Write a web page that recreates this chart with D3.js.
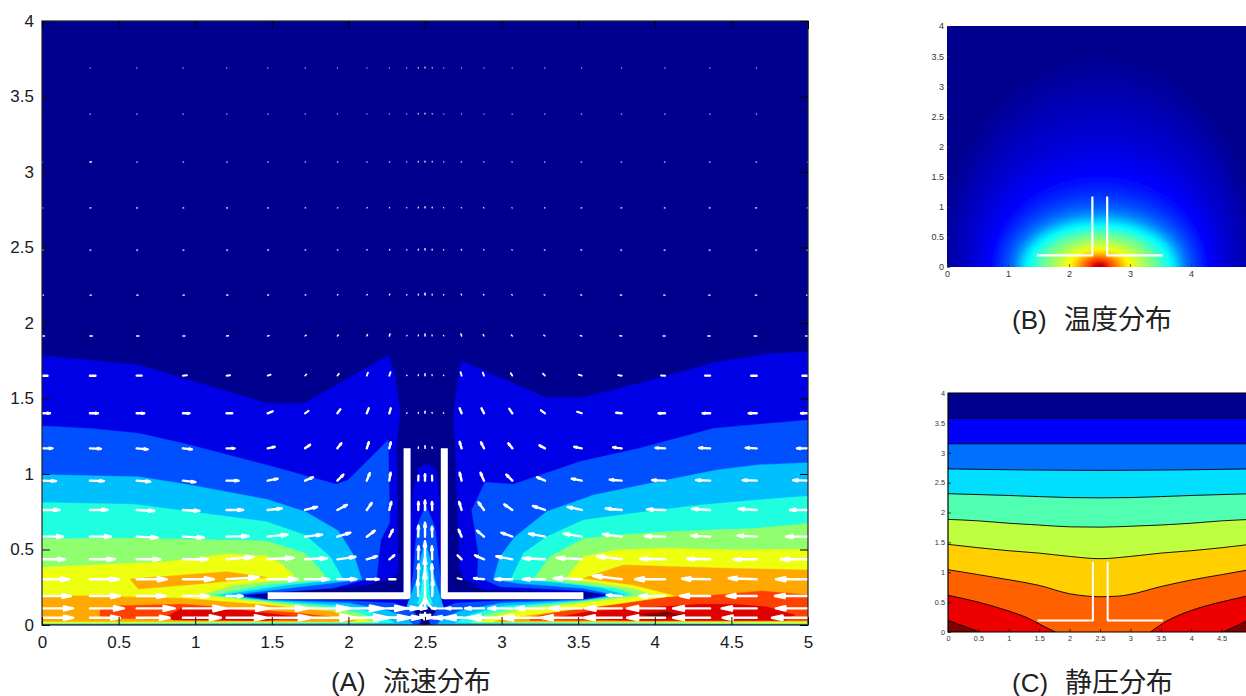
<!DOCTYPE html>
<html>
<head>
<meta charset="utf-8">
<script src="https://cdnjs.cloudflare.com/ajax/libs/d3/7.8.5/d3.min.js"></script>
<style>
  html, body { margin: 0; padding: 0; background: #fff; overflow: hidden; }
  text { font-family: "Liberation Sans", Arial, sans-serif; }
</style>
</head>
<body>
<div id="chart"></div>
<script>
// Constants
var width = 1246;
var height = 696;

// Shared geometry of the heated plate and duct, in metres
var wallLeft = [[1.473, 0.193], [2.383, 0.193], [2.383, 1.17]];
var wallRight = [[3.534, 0.193], [2.626, 0.193], [2.626, 1.17]];

// (A) flow speed band colours, low to high
var flowColors = ["#00008f", "#0000e6", "#0050ff", "#00bfff", "#1fffdf", "#8fff70", "#efff10", "#ffa800", "#ff4000", "#df0000", "#800000"];

// (A) band outlines, left side
var flowL1 = [[0,1.784],[.629,1.722],[.922,1.634],[1.467,1.468],[1.71,1.468],[2.26,1.784],[2.304,1.667],[2.337,1.402],[2.315,1.181],[2.326,.342],[2.27,.309],[2.12,.265],[1.9,.243],[1.6,.225],[1.33,.197],[1.467,.17],[2,.165],[2.36,.165],[2.5,0],[0,0]];
var flowL2 = [[0,1.318],[.313,1.302],[.629,1.27],[.922,1.203],[1.467,1.06],[1.922,.932],[1.998,.96],[2.26,1.225],[2.27,.68],[2.21,.56],[2.185,.32],[1.9,.245],[1.28,.197],[1.47,.168],[2,.16],[2.3,.145],[2.42,.1],[2.47,.03],[2.48,0],[0,0]];
var flowL3 = [[0,.996],[.629,.981],[.922,.936],[1.467,.832],[1.717,.751],[1.934,.625],[2.04,.453],[2.087,.302],[1.7,.255],[1.22,.197],[1.47,.165],[2,.145],[2.25,.1],[2.38,.05],[2.42,.005],[0,.005]];
var flowL4 = [[0,.812],[.6,.8],[1.467,.684],[1.717,.596],[1.88,.453],[1.966,.302],[1.6,.265],[1.15,.197],[1.47,.16],[2,.125],[2.2,.07],[2.3,.015],[0,.008]];
var flowL5 = [[0,.572],[.61,.575],[1.467,.557],[1.717,.475],[1.79,.397],[1.865,.302],[1.45,.265],[1.1,.197],[1.47,.155],[1.9,.115],[2.1,.07],[2.2,.015],[0,.01]];
var flowL6 = [[0,.382],[.81,.419],[1.205,.47],[1.467,.457],[1.564,.404],[1.66,.309],[1.25,.265],[1.03,.197],[1.47,.147],[1.8,.11],[2,.07],[2.15,.02],[0,.014]];
var flowL7 = [[0,.188],[.27,.194],[.92,.177],[1.47,.132],[1.9,.09],[2.05,.03],[2,.022],[0,.024]];
var flowL7b = [[.574,.305],[1.205,.353],[1.467,.316],[1.075,.276],[.629,.238]];
var flowL8 = [[.379,.099],[.509,.128],[.92,.137],[1.467,.095],[1.684,.077],[1.88,.055],[1.684,.029],[.379,.044]];
var flowL9 = [[.814,.055],[.92,.115],[1.25,.104],[1.66,.055],[1.467,.029],[.857,.033]];

// (A) band outlines, right side
var flowR1 = [[5,1.81],[4.73,1.795],[4.393,1.74],[4.067,1.645],[3.544,1.508],[3.283,1.508],[2.74,1.75],[2.717,1.645],[2.685,1.38],[2.696,1.181],[2.728,.364],[2.75,.309],[2.88,.236],[3.2,.227],[3.533,.22],[3.675,.199],[3.53,.17],[3,.165],[2.64,.165],[2.5,0],[5,0]];
var flowR2 = [[5,1.358],[4.382,1.302],[3.9,1.17],[3.512,1.082],[3.077,.932],[2.892,.945],[2.805,.762],[2.848,.475],[2.842,.32],[2.99,.254],[3.533,.227],[3.72,.197],[3.53,.168],[3,.16],[2.7,.145],[2.58,.1],[2.53,.03],[2.52,0],[5,0]];
var flowR3 = [[5,1.075],[4.665,1.06],[4.405,1.026],[3.969,.938],[3.6,.861],[3.295,.751],[3.088,.585],[2.99,.453],[2.946,.302],[3.1,.276],[3.533,.243],[3.75,.199],[3.53,.165],[3,.145],[2.75,.1],[2.62,.05],[2.58,.005],[5,.005]];
var flowR4 = [[5,.854],[4.665,.828],[4.295,.795],[3.86,.74],[3.533,.695],[3.295,.585],[3.142,.475],[3.06,.302],[3.316,.287],[3.643,.249],[3.816,.199],[3.53,.16],[3,.125],[2.8,.07],[2.7,.015],[5,.008]];
var flowR5 = [[5,.673],[4.665,.64],[4.078,.618],[3.751,.596],[3.533,.57],[3.316,.453],[3.207,.302],[3.381,.287],[3.751,.243],[3.87,.199],[3.53,.155],[3.1,.115],[2.9,.07],[2.8,.015],[5,.01]];
var flowR6 = [[5,.501],[4.513,.497],[4.078,.508],[3.751,.497],[3.533,.453],[3.414,.302],[3.577,.287],[3.86,.243],[3.99,.199],[3.53,.147],[3.2,.11],[3,.07],[2.85,.02],[5,.014]];
var flowR7 = [[5,.364],[4.513,.375],[3.795,.397],[3.533,.309],[3.86,.265],[4.143,.192],[3.64,.121],[3.29,.077],[3.05,.044],[2.95,.022],[5,.024]];
var flowR8 = [[5,.199],[4.7,.225],[4.405,.199],[4.078,.183],[3.73,.132],[3.381,.088],[3.185,.051],[3.185,.03],[5,.03]];
var flowR9 = [[4.513,.137],[4.295,.137],[4.035,.121],[3.56,.088],[3.34,.044],[3.86,.029],[4.84,.029],[4.915,.066],[4.73,.121]];
var flowR10 = [[3.904,.073],[4.078,.088],[4.186,.064],[4.012,.051]];

// (A) band outlines inside the duct
var flowC1 = [[2.35,.16],[2.39,.563],[2.424,.894],[2.457,1.038],[2.511,1.07],[2.565,1.038],[2.587,.894],[2.62,.563],[2.65,.16]];
var flowC2 = [[2.39,.13],[2.424,.344],[2.446,.651],[2.505,.795],[2.565,.651],[2.598,.344],[2.61,.13]];
var flowC3 = [[2.38,.12],[2.446,.3],[2.463,.41],[2.5,.552],[2.544,.41],[2.565,.3],[2.62,.12]];
var flowC4 = [[2.45,.14],[2.47,.2],[2.485,.342],[2.505,.43],[2.52,.342],[2.53,.2],[2.55,.14]];
var flowHole = [[2.46,0],[2.5,.06],[2.54,0]];

// Band index and outlines in drawing order
var flowBandIndex = [1, 1, 1, 2, 2, 2, 3, 3, 3, 4, 4, 4, 5, 5, 6, 6, 7, 7, 7, 8, 8, 9, 9, 10, 0];
var flowBandShapes = [flowL1, flowR1, flowC1, flowL2, flowR2, flowC2, flowL3, flowR3, flowC3, flowL4, flowR4, flowC4, flowL5, flowR5, flowL6, flowR6, flowL7, flowL7b, flowR7, flowL8, flowR8, flowL9, flowR9, flowR10, flowHole];

// (A) quiver grid
var quiverX = [0,.313,.618,.92,1.205,1.473,1.717,1.928,2.12,2.267,2.38,2.456,2.5,2.547,2.623,2.739,2.885,3.07,3.283,3.523,3.784,4.067,4.361,4.665,5];
var quiverY = [3.689,3.384,3.066,2.762,2.483,2.185,1.914,1.651,1.402,1.17,.956,.762,.585,.435,.303,.192,.11,.048];

// (A) horizontal velocity, one row per quiverY
var quiverU = [
  [0,.03,.03,.03,.03,.03,.03,.02,.02,.02,.02,0,0,0,-.02,-.02,-.02,-.02,-.03,-.03,-.03,-.03,-.03,-.03,0],
  [0,.04,.04,.04,.04,.04,.03,.03,.02,.02,.02,0,0,0,-.02,-.02,-.02,-.03,-.03,-.04,-.04,-.04,-.04,-.04,0],
  [.06,.14,.07,.07,.07,.06,.05,.05,.04,.04,.03,0,0,0,-.03,-.04,-.04,-.05,-.05,-.06,-.07,-.07,-.07,-.07,-.06],
  [.08,.1,.08,.08,.08,.07,.06,.05,.05,.04,.03,0,0,0,-.03,-.04,-.05,-.05,-.06,-.07,-.08,-.08,-.08,-.1,-.08],
  [.1,.1,.1,.1,.1,.09,.07,.06,.05,.05,.04,.01,0,-.01,-.04,-.05,-.05,-.06,-.07,-.09,-.1,-.1,-.1,-.1,-.1],
  [.15,.15,.15,.14,.13,.11,.09,.07,.06,.05,.04,.01,0,-.01,-.04,-.05,-.06,-.07,-.09,-.11,-.13,-.14,-.15,-.15,-.15],
  [.24,.24,.22,.2,.18,.15,.12,.1,.08,.07,.05,.02,0,-.02,-.05,-.07,-.08,-.1,-.12,-.15,-.18,-.2,-.22,-.24,-.24],
  [.55,.55,.5,.4,.35,.3,.15,.15,.12,.12,.05,.02,0,-.02,-.05,-.1,-.12,-.15,-.2,-.3,-.35,-.4,-.5,-.55,-.55],
  [.8,.8,.75,.65,.55,.5,.35,.3,.2,.15,.05,.02,0,-.02,-.05,-.2,-.25,-.3,-.4,-.45,-.55,-.65,-.75,-.8,-.7],
  [1.05,1.1,1.1,.9,.8,.7,.5,.4,.2,.15,0,.02,0,-.02,0,-.2,-.3,-.4,-.55,-.75,-.85,-.95,-1.1,-1.1,-1.1],
  [1.4,1.4,1.35,1.25,1.2,1,.8,.6,.3,.13,0,.02,0,-.02,0,-.2,-.35,-.6,-.8,-1,-1.2,-1.3,-1.4,-1.4,-1.5],
  [1.75,1.75,1.75,1.65,1.65,1.4,1.2,.95,.5,.2,0,.02,0,-.02,0,-.25,-.55,-.8,-1.2,-1.4,-1.6,-1.8,-1.8,-1.8,-1.8],
  [2.1,2.1,2.1,2.1,2.2,2,1.7,1.3,.8,.35,0,.02,0,-.02,0,-.3,-.7,-1.1,-1.6,-1.8,-1.9,-2,-1.9,-1.9,-2.2],
  [2.3,2.5,2.4,2.5,2.7,2.6,2.2,1.8,1,.5,0,.03,0,-.03,0,-.4,-.9,-1.6,-2.2,-2.5,-2.5,-2.5,-2.3,-2.3,-2.7],
  [2.7,2.9,3,3.1,3.2,3,2.4,1.9,1.2,.6,0,.03,0,-.03,0,-.4,-1,-1.7,-2.2,-2.8,-2.9,-3,-2.8,-2.8,-3.2],
  [2.9,3,2.9,2.6,1.6,0,0,0,0,0,0,-.05,0,.05,0,0,0,0,0,0,-1.5,-2.6,-3,-3,-3.3],
  [3.1,3.4,3.8,4.3,4.2,4,4.5,4.6,4,3,2,.8,0,-.8,-1.2,-1.6,-1.9,-2.4,-3,-3.3,-3.7,-3.8,-3.7,-3.5,-3.2],
  [3.1,3,3.3,3.8,4,4.4,5,5.2,4.4,3.2,2.5,1.2,0,-1.2,-1.3,-2.8,-4,-4.5,-4.5,-4.1,-3.8,-3.8,-3.7,-3.4,-3.6]
];

// (A) vertical velocity, one row per quiverY
var quiverV = [
  [0,0,0,0,0,0,0,0,0,0,0,.05,.08,.05,0,0,0,0,0,0,0,0,0,0,0],
  [0,0,0,0,0,0,0,0,0,0,0,.05,.08,.05,0,0,0,0,0,0,0,0,0,0,0],
  [0,0,0,0,0,0,0,.01,.01,.01,.02,.06,.1,.06,.02,.01,.01,.01,0,0,0,0,0,0,0],
  [0,0,0,0,0,0,.01,.02,.03,.03,.03,.08,.12,.08,.03,.03,.03,.02,.01,0,0,0,0,0,0],
  [0,0,0,0,0,.01,.02,.03,.04,.06,.04,.1,.15,.1,.04,.06,.04,.03,.02,.01,0,0,0,0,0],
  [0,0,0,0,.01,.02,.03,.05,.07,.1,.05,.1,.18,.1,.05,.1,.07,.05,.03,.02,.01,0,0,0,0],
  [0,0,0,.01,.02,.04,.08,.1,.14,.2,.06,.1,.2,.1,.06,.2,.14,.1,.08,.04,.02,.01,0,0,0],
  [0,0,0,.05,.05,.1,.15,.2,.3,.35,.06,.1,.2,.1,.06,.35,.3,.25,.2,.1,.06,.03,0,0,0],
  [0,0,0,0,0,.2,.25,.4,.5,.5,.06,.1,.2,.1,.06,.5,.5,.45,.3,.15,.05,0,0,0,0],
  [0,-.05,-.1,-.1,0,.15,.35,.5,.6,.6,0,.15,.25,.15,0,.65,.6,.5,.3,.15,.1,.05,.05,.05,0],
  [-.05,-.05,-.1,-.15,0,.2,.35,.6,.75,.8,0,.5,.65,.5,0,.8,.8,.6,.35,.2,.1,.05,.05,.05,.05],
  [0,0,-.1,-.1,0,.15,.3,.5,.7,.8,0,.8,.95,.8,0,.8,.75,.55,.4,.3,.15,.05,.1,.1,0],
  [0,0,-.1,-.1,.05,.2,.2,.4,.6,.7,0,1.1,1.4,1,0,.7,.6,.4,.3,.3,.25,.05,.1,.1,0],
  [0,0,0,0,.25,.15,.1,.25,.3,.4,0,1.3,1.8,1.3,0,.4,.4,.3,.1,.15,.3,.05,.05,0,0],
  [0,0,0,0,.2,0,0,0,0,0,0,1.5,2.2,1.5,0,.1,.1,0,0,.1,.35,0,.05,.1,0],
  [0,0,0,0,0,0,0,0,0,0,0,1.6,2.5,1.6,0,0,0,0,0,0,.1,0,0,0,0],
  [0,0,0,0,0,0,0,0,0,0,0,.9,1.2,.9,0,0,0,0,0,0,0,0,0,0,0],
  [0,0,0,0,0,0,0,0,0,0,0,.3,.5,.3,0,0,0,0,0,0,0,0,0,0,0]
];

// (B) temperature contours: level on the jet scale and half widths around the source
var tempLevels = [.008,.015,.022,.03,.038,.045,.052,.06,.07,.08,.09,.1,.11,.12,.135,.15,.165,.18,.195,.21,.23,.25,.27,.29,.31,.33,.36,.4,.44,.48,.52,.56,.6,.64,.68,.72,.76,.8,.84,.88,.92,.96,1];
var tempRx = [2.62,2.55,2.48,2.42,2.36,2.3,2.24,2.18,2.1,2.03,1.95,1.88,1.82,1.76,1.71,1.66,1.61,1.56,1.51,1.47,1.42,1.38,1.34,1.31,1.28,1.25,1.2,1.12,1.03,.95,.85,.74,.64,.55,.46,.39,.33,.27,.21,.16,.12,.08,.04];
var tempRy = [3.45,3.3,3.15,3.0,2.85,2.7,2.55,2.4,2.22,2.05,1.9,1.75,1.62,1.5,1.38,1.28,1.2,1.13,1.06,1.0,.95,.9,.86,.82,.79,.76,.72,.66,.6,.55,.49,.43,.37,.31,.27,.23,.2,.17,.14,.11,.08,.05,.03];
var tempCenterX = 2.5;

// (C) pressure band colours, low to high
var pressColors = ["#000090", "#0000ff", "#0070ff", "#00dfff", "#50ffb0", "#bfff40", "#ffcf00", "#ff6000", "#ef0000", "#800000"];

// (C) pressure contour lines
var pressLine1 = [[0,3.58],[5,3.58]];
var pressLine2 = [[0,3.15],[5,3.15]];
var pressLine3 = [[0,2.73],[1.5,2.71],[2.5,2.705],[3.5,2.71],[5,2.73]];
var pressLine4 = [[0,2.315],[1,2.285],[2,2.25],[2.5,2.245],[3,2.25],[4,2.285],[5,2.315]];
var pressLine5 = [[0,1.885],[.5,1.86],[1,1.82],[1.5,1.79],[2,1.76],[2.5,1.755],[3,1.77],[3.5,1.79],[4,1.82],[4.5,1.86],[5,1.885]];
var pressLine6 = [[0,1.467],[.5,1.41],[1,1.36],[1.5,1.32],[2,1.265],[2.5,1.227],[3,1.265],[3.5,1.32],[4,1.36],[4.5,1.41],[5,1.47]];
var pressLine7 = [[0,1.043],[.5,.96],[1,.875],[1.5,.78],[2,.64],[2.3,.6],[2.5,.59],[2.8,.6],[3,.63],[3.5,.76],[4,.87],[4.5,.96],[5,1.05]];
var pressLine8a = [[0,.614],[.5,.5],[1,.35],[1.3,.24],[1.575,.095],[1.767,0]];
var pressLine8b = [[3.33,0],[3.6,.184],[4,.36],[4.48,.5],[4.91,.6],[5,.625]];
var pressLine9a = [[0,.195],[.25,.1],[.52,0]];
var pressLine9b = [[4.527,0],[4.91,.184],[5,.23]];
var pressBandIndex = [1, 2, 3, 4, 5, 6, 7, 8, 8, 9, 9];
var pressBandLines = [pressLine1, pressLine2, pressLine3, pressLine4, pressLine5, pressLine6, pressLine7, pressLine8a, pressLine8b, pressLine9a, pressLine9b];

// Tick values
var tickXA = [0, .5, 1, 1.5, 2, 2.5, 3, 3.5, 4, 4.5, 5];
var tickYA = [0, .5, 1, 1.5, 2, 2.5, 3, 3.5, 4];
var tickXB = [0, 1, 2, 3, 4];
var tickXC = [0, .5, 1, 1.5, 2, 2.5, 3, 3.5, 4, 4.5];

// Jet colour scheme for the temperature field
var jet = d3.scaleLinear()
  .domain([0, .11, .36, .64, .89, 1])
  .range(["#00008f", "#0000ff", "#00ffff", "#ffff00", "#ff0000", "#800000"]);

var svg = d3.select("#chart")
  .append("svg")
    .attr("width", width)
    .attr("height", height)
    .style("display", "block");

var defs = svg.append("defs");
defs.append("filter").attr("id", "soft")
  .attr("x", "-10%").attr("y", "-10%").attr("width", "120%").attr("height", "120%")
  .append("feGaussianBlur").attr("stdDeviation", 2);

// Make a plot group with scales, clip and drawing helpers
function makePlot(id, left, right, top, bottom) {
  var x = d3.scaleLinear().domain([0, 5]).range([left, right]);
  var y = d3.scaleLinear().domain([0, 4]).range([bottom, top]);
  defs.append("clipPath").attr("id", "clip-" + id)
    .append("rect")
      .attr("x", left).attr("y", top)
      .attr("width", right - left).attr("height", bottom - top);
  var g = svg.append("g").attr("id", id);
  var body = g.append("g").attr("clip-path", "url(#clip-" + id + ")");
  return {x: x, y: y, g: g, body: body, line: d3.line().x(function(d) { return x(d[0]); }).y(function(d) { return y(d[1]); })};
}

// Add the axes around a plot
function addAxes(p, opt) {
  var xAxis = d3.axisBottom(p.x).tickValues(opt.tickX).tickFormat(d3.format("~g"))
    .tickSizeInner(-opt.tick).tickSizeOuter(0).tickPadding(opt.padX);
  var yAxis = d3.axisLeft(p.y).tickValues(opt.tickY).tickFormat(d3.format("~g"))
    .tickSizeInner(-opt.tick).tickSizeOuter(0).tickPadding(opt.padY);
  var xg = p.g.append("g").attr("transform", "translate(0," + p.y(0) + ")").call(xAxis);
  var yg = p.g.append("g").attr("transform", "translate(" + p.x(0) + ",0)").call(yAxis);
  [xg, yg].forEach(function(a) {
    a.select(".domain").remove();
    a.selectAll("line").attr("stroke", opt.tickColor).attr("stroke-width", opt.tickWidth);
    a.selectAll("text")
      .attr("fill", opt.textColor)
      .style("font-size", opt.font + "px")
      .style("font-family", '"Liberation Sans", Arial, sans-serif');
  });
}

// Caption under a plot, latin and CJK parts side by side
function caption(tag, name, xTag, xName, yBase) {
  svg.append("text").attr("x", xTag).attr("y", yBase)
    .attr("fill", "#222").style("font-size", "26px").text(tag);
  svg.append("text").attr("x", xName).attr("y", yBase)
    .attr("fill", "#222").style("font-family", '"Noto Sans CJK JP"').style("font-size", "27px").text(name);
}

// Duct and plate outlines
function addWalls(p, w) {
  p.body.selectAll("path.wall")
    .data([wallLeft, wallRight])
    .enter().append("path")
      .attr("class", "wall")
      .attr("d", p.line)
      .attr("fill", "none")
      .attr("stroke", "#fff")
      .attr("stroke-width", w)
      .attr("stroke-linejoin", "round");
}

// ---- (A) flow field ----
var a = makePlot("flow", 42, 808, 21, 625);
a.body.append("rect")
  .attr("x", 42).attr("y", 21).attr("width", 766).attr("height", 604)
  .attr("fill", flowColors[0]);

a.body.selectAll("path.band")
  .data(flowBandShapes)
  .enter().append("path")
    .attr("class", "band")
    .attr("d", function(d) { return a.line(d) + "Z"; })
    .attr("fill", function(d, i) { return flowColors[flowBandIndex[i]]; })
    .attr("stroke", function(d, i) { return flowColors[flowBandIndex[i]]; })
    .attr("stroke-width", .4);

// Flatten the quiver matrix into arrows
var arrows = [];
quiverY.forEach(function(yv, r) {
  quiverX.forEach(function(xv, c) {
    var u = quiverU[r][c], v = quiverV[r][c];
    if (u === 0 && v === 0) return;
    arrows.push({x: xv, y: yv, u: u, v: v});
  });
});

// One velocity unit is ten pixels of arrow
var quiverScale = d3.scaleLinear().domain([0, 1]).range([0, 10]);

function arrowWidth(d) {
  var len = quiverScale(Math.hypot(d.u, d.v));
  return Math.min(2.4, 1 + len * .25);
}

function arrowPath(d) {
  var x0 = a.x(d.x), y0 = a.y(d.y);
  var dx = quiverScale(d.u), dy = -quiverScale(d.v);
  var x1 = x0 + dx, y1 = y0 + dy;
  var path = d3.path();
  var len = Math.hypot(dx, dy);
  path.moveTo(x0, y0);
  path.lineTo(x1, y1);
  if (len > 6) {
    var ang = Math.atan2(dy, dx), barb = len * .3, spread = .22;
    path.moveTo(x1, y1);
    path.lineTo(x1 - barb * Math.cos(ang - spread), y1 - barb * Math.sin(ang - spread));
    path.lineTo(x1 - barb * Math.cos(ang + spread), y1 - barb * Math.sin(ang + spread));
    path.closePath();
  }
  return path.toString();
}

a.body.selectAll("path.arrow")
  .data(arrows)
  .enter().append("path")
    .attr("class", "arrow")
    .attr("d", arrowPath)
    .attr("fill", "#fff")
    .attr("stroke", "#fff")
    .attr("stroke-width", arrowWidth)
    .attr("stroke-linecap", "round")
    .attr("stroke-linejoin", "round");

addWalls(a, 7);

a.g.append("rect")
  .attr("x", 42).attr("y", 21).attr("width", 766).attr("height", 604)
  .attr("fill", "none").attr("stroke", "#222").attr("stroke-width", 1.2);

addAxes(a, {tickX: tickXA, tickY: tickYA, tick: 8, padX: 11, padY: 8, tickColor: "#111", tickWidth: 1, textColor: "#1a1a1a", font: 17});

// Ticks on the top and right edges
a.g.append("g").attr("transform", "translate(0,21)")
  .call(d3.axisTop(a.x).tickValues(tickXA).tickSizeInner(-8).tickSizeOuter(0).tickFormat(""))
  .call(function(s) { s.select(".domain").remove(); });
a.g.append("g").attr("transform", "translate(808,0)")
  .call(d3.axisRight(a.y).tickValues(tickYA).tickSizeInner(-8).tickSizeOuter(0).tickFormat(""))
  .call(function(s) { s.select(".domain").remove(); });

caption("(A)", "流速分布", 331, 383, 691);

// ---- (B) temperature field ----
var b = makePlot("temp", 947, 1252, 26, 267);
b.body.append("rect")
  .attr("x", 947).attr("y", 26).attr("width", 305).attr("height", 241)
  .attr("fill", jet(0));

b.body.append("g").attr("filter", "url(#soft)")
  .selectAll("ellipse")
  .data(tempLevels)
  .enter().append("ellipse")
    .attr("cx", b.x(tempCenterX))
    .attr("cy", b.y(0))
    .attr("rx", function(d, i) { return b.x(tempRx[i]) - b.x(0); })
    .attr("ry", function(d, i) { return b.y(0) - b.y(tempRy[i]); })
    .attr("fill", function(d) { return jet(d); });

addWalls(b, 2.2);
addAxes(b, {tickX: tickXB, tickY: tickYA, tick: 3, padX: 4, padY: 3, tickColor: "#333", tickWidth: .7, textColor: "#333", font: 9});
caption("(B)", "温度分布", 1012, 1064, 329);

// ---- (C) pressure field ----
var c = makePlot("press", 948, 1252, 393, 632);
c.body.append("rect")
  .attr("x", 948).attr("y", 393).attr("width", 304).attr("height", 239)
  .attr("fill", pressColors[0]);

var pressArea = d3.area().curve(d3.curveMonotoneX)
  .x(function(d) { return c.x(d[0]); })
  .y0(c.y(0))
  .y1(function(d) { return c.y(d[1]); });
var pressLine = d3.line().curve(d3.curveMonotoneX)
  .x(function(d) { return c.x(d[0]); })
  .y(function(d) { return c.y(d[1]); });

c.body.selectAll("path.pband")
  .data(pressBandLines)
  .enter().append("path")
    .attr("class", "pband")
    .attr("d", pressArea)
    .attr("fill", function(d, i) { return pressColors[pressBandIndex[i]]; });

c.body.selectAll("path.pline")
  .data(pressBandLines)
  .enter().append("path")
    .attr("class", "pline")
    .attr("d", pressLine)
    .attr("fill", "none")
    .attr("stroke", "#000")
    .attr("stroke-width", .9);

addWalls(c, 2);

c.g.append("path")
  .attr("d", "M1252,393H948V632H1252")
  .attr("fill", "none").attr("stroke", "#000").attr("stroke-width", 1.2);

addAxes(c, {tickX: tickXC, tickY: tickYA, tick: 3, padX: 4, padY: 3, tickColor: "#000", tickWidth: .7, textColor: "#333", font: 7.3});
caption("(C)", "静圧分布", 1012, 1065, 692);
</script>
</body>
</html>
